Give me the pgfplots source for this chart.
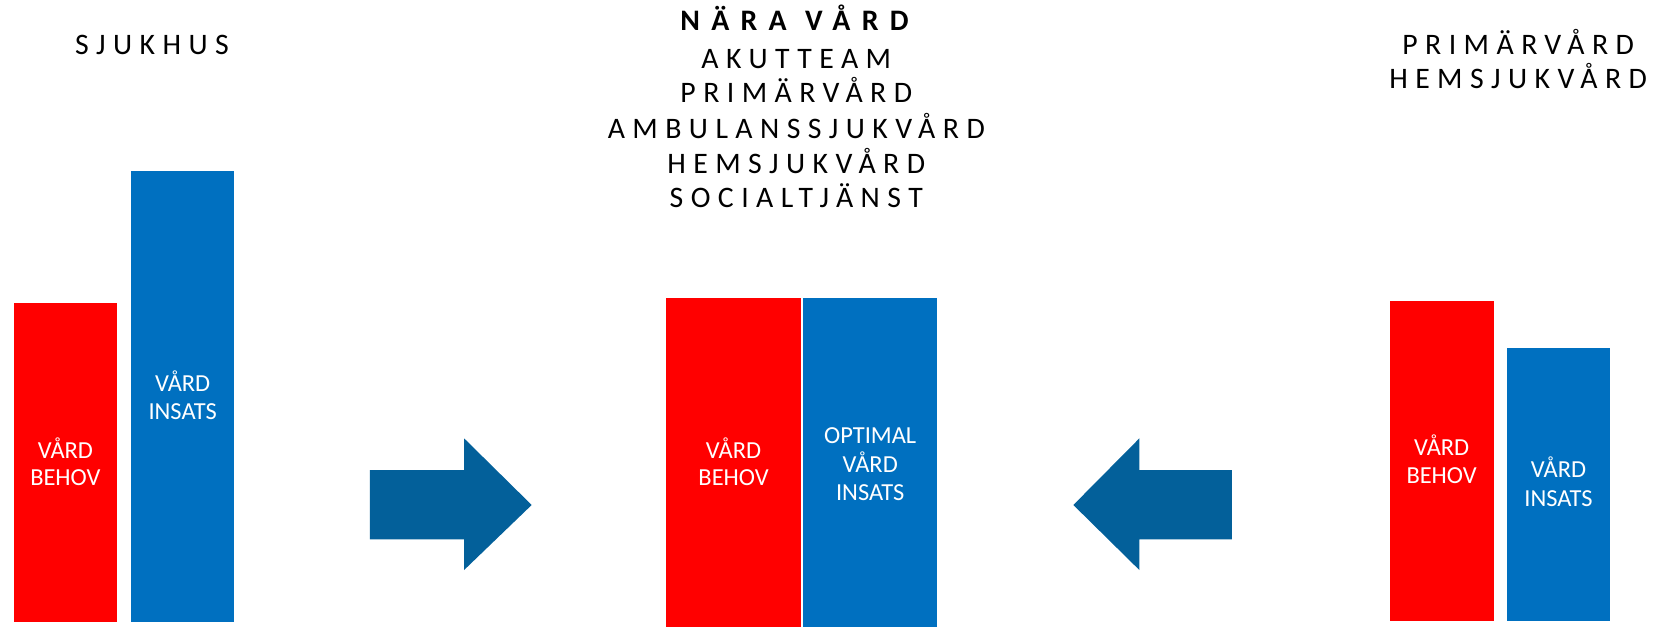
\documentclass[border=0pt]{standalone}
\usepackage{pgfplots}
\pgfplotsset{compat=1.18}
\usepackage{fontspec}
\setmainfont{Carlito}
\newfontfamily\spaced{Carlito}[LetterSpace=25]
\newfontfamily\spacedb{Carlito Bold}[LetterSpace=38]
\definecolor{barred}{HTML}{FF0000}
\definecolor{barblue}{HTML}{0070C0}
\definecolor{arrowblue}{HTML}{03609A}
\begin{document}
\begin{tikzpicture}
\begin{axis}[name=ax,
  x=0.5pt, y=0.5pt,
  xmin=0, xmax=1568, ymin=0, ymax=590,
  hide axis, clip=false]
% bars (left: SJUKHUS)
\addplot[fill=barred, draw=none] coordinates {(12.8,5) (12.8,304.8) (110.2,304.8) (110.2,5)} -- cycle;
\addplot[fill=barblue, draw=none] coordinates {(123.6,5) (123.6,429) (220,429) (220,5)} -- cycle;
% bars (centre: NÄRA VÅRD)
\addplot[fill=barred, draw=none] coordinates {(626.6,0) (626.6,309.7) (753.5,309.7) (753.5,0)} -- cycle;
\addplot[fill=barblue, draw=none] coordinates {(755.6,0) (755.6,309.7) (881.5,309.7) (881.5,0)} -- cycle;
% bars (right: PRIMÄRVÅRD)
\addplot[fill=barred, draw=none] coordinates {(1307.7,6) (1307.7,307) (1405,307) (1405,6)} -- cycle;
\addplot[fill=barblue, draw=none] coordinates {(1417.5,6) (1417.5,262.7) (1514.3,262.7) (1514.3,6)} -- cycle;
% arrows
\addplot[fill=arrowblue, draw=none] coordinates {(348,82.7) (436.5,82.7) (436.5,53.8) (500.1,115) (436.5,177.7) (436.5,147.9) (348,147.9)} -- cycle;
\addplot[fill=arrowblue, draw=none] coordinates {(1158.6,82.7) (1071.7,82.7) (1071.7,53.8) (1009.6,115) (1071.7,177.7) (1071.7,147.9) (1158.6,147.9)} -- cycle;

% headings
\begin{scope}[every node/.style={anchor=base, inner sep=0pt, font=\spaced\fontsize{14}{16}\selectfont}]
\node at (axis cs:143,539.2) {SJUKHUS};
\node[font=\spacedb\fontsize{14}{16}\selectfont] at (axis cs:690,561) {NÄRA};
\node[font=\spacedb\fontsize{14}{16}\selectfont] at (axis cs:806,561) {VÅRD};
\node at (axis cs:749,526) {AKUTTEAM};
\node at (axis cs:749,494) {PRIMÄRVÅRD};
\node at (axis cs:749,460) {AMBULANSSJUKVÅRD};
\node at (axis cs:749,427) {HEMSJUKVÅRD};
\node at (axis cs:749,394.5) {SOCIALTJÄNST};
\node at (axis cs:1428,539.2) {PRIMÄRVÅRD};
\node at (axis cs:1428,506.5) {HEMSJUKVÅRD};
\end{scope}

% labels inside bars
\begin{scope}[every node/.style={anchor=base, inner sep=0pt, text=white, font=\fontsize{11.5}{13.5}\selectfont}]
\node at (axis cs:61.5,159.2) {VÅRD};
\node at (axis cs:61.5,133) {BEHOV};
\node at (axis cs:171.8,222) {VÅRD};
\node at (axis cs:171.8,195) {INSATS};
\node at (axis cs:690,159.2) {VÅRD};
\node at (axis cs:690,133) {BEHOV};
\node at (axis cs:818.5,172.4) {OPTIMAL};
\node at (axis cs:818.5,146) {VÅRD};
\node at (axis cs:818.5,119) {INSATS};
\node at (axis cs:1356,162) {VÅRD};
\node at (axis cs:1356,135) {BEHOV};
\node at (axis cs:1466,140.4) {VÅRD};
\node at (axis cs:1466,113.7) {INSATS};
\end{scope}
\end{axis}
\pgfresetboundingbox
\path[use as bounding box] (ax.south west) rectangle (ax.north east);
\end{tikzpicture}
\end{document}
